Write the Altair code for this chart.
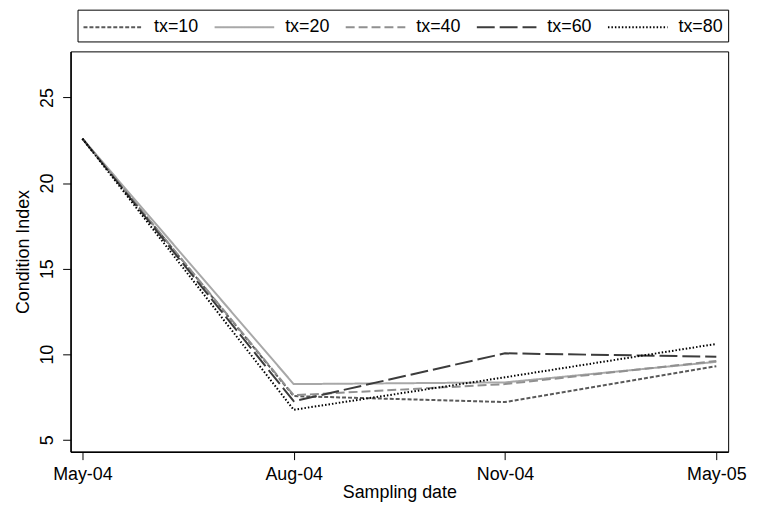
import altair as alt
import pandas as pd

dates = ["May-04", "Aug-04", "Nov-04", "May-05"]
series = ["tx=10", "tx=20", "tx=40", "tx=60", "tx=80"]
tx10 = [22.6, 7.55, 7.2, 9.3]
tx20 = [22.6, 8.25, 8.35, 9.55]
tx40 = [22.6, 7.6, 8.25, 9.6]
tx60 = [22.6, 7.25, 10.05, 9.85]
tx80 = [22.6, 6.75, 8.65, 10.6]
y_ticks = [5, 10, 15, 20, 25]

colors = ["#5a5a5a", "#a8a8a8", "#909090", "#3c3c3c", "#000000"]
dashes = [[4, 2], [1, 0], [9, 4], [18, 5], [1.5, 2]]

rows = []
for name, vals in zip(series, [tx10, tx20, tx40, tx60, tx80]):
    for d, v in zip(dates, vals):
        rows.append({"date": d, "series": name, "value": v})
df = pd.DataFrame(rows)

FONT = "Liberation Sans"

def make_legend():
    return alt.Legend(title=None, orient="none", legendX=7, legendY=-42,
                      direction="horizontal", columns=5,
                      symbolType="M-2.609,0H2.609", symbolSize=529,
                      symbolOffset=18.5, symbolStrokeWidth=2, labelOffset=28.5,
                      columnPadding=11, padding=5,
                      strokeColor="black", fillColor="white",
                      labelFontSize=18, labelFont=FONT, labelColor="black")

chart = alt.Chart(df).mark_line(strokeWidth=2).encode(
    x=alt.X("date:O", sort=dates,
            scale=alt.Scale(type="point", padding=0.056),
            axis=alt.Axis(title="Sampling date", labelAngle=0, tickSize=8,
                          labelPadding=6, titlePadding=0)),
    y=alt.Y("value:Q",
            scale=alt.Scale(domain=[4.3, 27.7], nice=False, zero=False),
            axis=alt.Axis(title="Condition Index", values=y_ticks, tickSize=8,
                          labelAngle=270, labelAlign="center", labelBaseline="bottom",
                          labelPadding=6, titlePadding=6, grid=False)),
    color=alt.Color("series:N", sort=series,
                    scale=alt.Scale(domain=series, range=colors),
                    legend=make_legend()),
    strokeDash=alt.StrokeDash("series:N", sort=series,
                              scale=alt.Scale(domain=series, range=dashes),
                              legend=make_legend()),
).properties(
    width=662, height=403,
    autosize=alt.AutoSizeParams(type="none"),
    padding={"left": 63, "top": 42, "right": 22, "bottom": 51},
).configure_view(
    stroke="black", strokeWidth=1
).configure_axis(
    labelFont=FONT, titleFont=FONT, labelFontSize=18, titleFontSize=18,
    labelColor="black", titleColor="black", titleFontWeight="normal",
    domainColor="black", domainWidth=1.5, tickColor="black", tickWidth=1
)

chart.save("out.html", embed_options={"renderer": "svg", "actions": False})
